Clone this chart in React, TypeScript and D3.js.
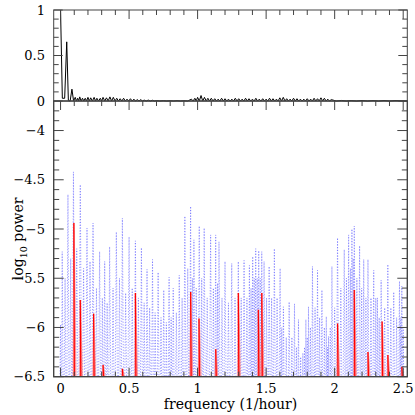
import React from "react";
import * as d3 from "d3";

// ---- top panel (normalized window / spectral function) ----
const topHeadFreq = [0.0, 0.013, 0.03, 0.045, 0.057, 0.07, 0.083, 0.095];
const topHeadPow = [1.0, 0.03, 0.03, 0.65, 0.005, 0.0, 0.13, 0.0];
const topBumpFreq = [
  0.107, 0.125, 0.14, 0.16, 0.18, 0.2, 0.22, 0.245, 0.265, 0.29, 0.31, 0.335, 0.36, 0.385, 0.41,
  0.435, 0.46, 0.485, 0.51, 0.535, 0.56, 0.585, 0.61, 0.64, 0.67, 0.7, 0.75, 0.8, 0.85, 0.9,
  0.955, 0.98, 1.0, 1.025, 1.05, 1.075, 1.1, 1.125, 1.15, 1.175, 1.2, 1.225, 1.25, 1.275, 1.3,
  1.325, 1.35, 1.375, 1.4, 1.425, 1.45, 1.475, 1.5, 1.525, 1.55, 1.575, 1.6, 1.625, 1.65, 1.675,
  1.7, 1.725, 1.75, 1.775, 1.8, 1.825, 1.85, 1.875, 1.9, 1.925, 1.95, 1.975, 2.05, 2.12, 2.2,
  2.28, 2.36, 2.44,
];
const topBumpPow = [
  0.04, 0.03, 0.045, 0.03, 0.03, 0.04, 0.035, 0.04, 0.03, 0.03, 0.04, 0.035, 0.045, 0.04, 0.03,
  0.025, 0.03, 0.02, 0.025, 0.02, 0.015, 0.015, 0.01, 0.01, 0.008, 0.005, 0.004, 0.003, 0.004, 0.003,
  0.02, 0.03, 0.04, 0.06, 0.04, 0.03, 0.03, 0.025, 0.02, 0.03, 0.025, 0.02, 0.02, 0.03, 0.025,
  0.02, 0.03, 0.025, 0.02, 0.03, 0.02, 0.025, 0.02, 0.03, 0.025, 0.02, 0.035, 0.04, 0.025, 0.02,
  0.03, 0.025, 0.02, 0.02, 0.025, 0.02, 0.03, 0.025, 0.035, 0.03, 0.02, 0.015, 0.006, 0.005, 0.006,
  0.005, 0.006, 0.005,
];

// ---- bottom panel: blue dotted periodogram peaks (log10 power) ----
const blueFreq = [
  0.0, 0.012, 0.033, 0.054, 0.074, 0.094, 0.118, 0.144, 0.168, 0.193, 0.215, 0.237, 0.262, 0.285,
  0.305, 0.322, 0.34, 0.358, 0.383, 0.407, 0.43, 0.451, 0.475, 0.5, 0.523, 0.546, 0.568, 0.59,
  0.61, 0.631, 0.65, 0.671, 0.69, 0.712, 0.733, 0.753, 0.772, 0.792, 0.807, 0.822, 0.845, 0.866,
  0.887, 0.907, 0.928, 0.949, 0.962, 0.973, 0.99, 1.012, 1.03, 1.048, 1.07, 1.095, 1.115, 1.132,
  1.145, 1.156, 1.178, 1.2, 1.225, 1.249, 1.273, 1.297, 1.318, 1.339, 1.36, 1.378, 1.39, 1.402,
  1.413, 1.424, 1.435, 1.446, 1.457, 1.468, 1.485, 1.503, 1.522, 1.54, 1.56, 1.58, 1.602, 1.614,
  1.626, 1.647, 1.668, 1.688, 1.707, 1.722, 1.736, 1.752, 1.768, 1.78, 1.79, 1.8, 1.809, 1.823,
  1.838, 1.857, 1.875, 1.89, 1.907, 1.925, 1.939, 1.948, 1.955, 1.968, 1.98, 2.0, 2.021, 2.045,
  2.07, 2.086, 2.102, 2.115, 2.126, 2.135, 2.143, 2.162, 2.182, 2.197, 2.212, 2.228, 2.243, 2.265,
  2.285, 2.3, 2.312, 2.325, 2.339, 2.365, 2.388, 2.41, 2.431, 2.452, 2.473, 2.482, 2.49, 2.5,
];
const bluePow = [
  -5.97, -5.23, -5.5, -4.65, -5.3, -4.42, -5.2, -4.55, -5.4, -4.99, -5.33, -4.94, -5.6, -5.23,
  -5.7, -5.33, -5.75, -5.18, -5.6, -5.03, -5.5, -4.89, -5.65, -5.08, -5.6, -5.12, -5.7, -5.19,
  -5.75, -5.41, -5.8, -5.31, -5.85, -5.44, -5.9, -5.62, -5.95, -5.49, -5.9, -5.6, -5.85, -5.47,
  -5.7, -4.87, -5.4, -4.77, -5.5, -5.11, -5.6, -4.97, -5.5, -4.99, -5.7, -5.06, -5.6, -5.06,
  -5.55, -5.13, -5.7, -5.33, -5.75, -5.35, -5.7, -5.33, -5.7, -5.32, -5.7, -5.37, -5.6, -5.28,
  -5.5, -5.2, -5.5, -5.22, -5.5, -5.23, -5.33, -5.7, -5.38, -5.7, -5.2, -5.7, -5.4, -6.0,
  -5.79, -6.1, -5.74, -6.1, -5.76, -6.2, -5.92, -6.3, -6.26, -6.2, -5.92, -6.1, -5.79, -6.0,
  -5.38, -5.8, -5.42, -5.9, -5.62, -6.0, -5.89, -6.2, -6.09, -6.0, -5.38, -5.8, -5.09, -5.6,
  -5.21, -5.5, -5.06, -5.4, -5.0, -5.3, -4.97, -5.5, -5.17, -5.6, -5.31, -5.7, -5.31, -5.7,
  -5.42, -5.7, -5.7, -5.9, -5.52, -5.8, -5.36, -5.8, -5.64, -5.9, -5.53, -5.9, -5.58, -6.0,
];

// ---- bottom panel: red spikes ----
const redFreq = [0.097, 0.144, 0.241, 0.31, 0.451, 0.546, 0.949, 1.01, 1.132, 1.297, 1.443, 1.468, 2.021, 2.143, 2.243, 2.346, 2.388, 2.49];
const redPow = [-4.94, -5.72, -5.86, -6.38, -6.42, -5.65, -5.64, -5.91, -6.22, -5.65, -5.82, -5.65, -5.96, -5.62, -6.25, -5.94, -6.28, -6.4];

const xTickLabels = ["0", "0.5", "1", "1.5", "2", "2.5"];
const xTickVals = [0, 0.5, 1, 1.5, 2, 2.5];
const topYLabels = ["0", "0.5", "1"];
const topYVals = [0, 0.5, 1];
const botYLabels = ["−4", "−4.5", "−5", "−5.5", "−6", "−6.5"];
const botYVals = [-4, -4.5, -5, -5.5, -6, -6.5];

const W = 415;
const H = 415;
const L = 53.7;
const R = 407.3;
const T1 = 10;
const B1 = 101;
const B2 = 376.7;
const FONT = "'DejaVu Serif', serif";

export default function App() {
  const x = d3.scaleLinear().domain([-0.05, 2.53]).range([L, R]);
  const yT = d3.scaleLinear().domain([0, 1]).range([B1, T1]);
  const yB = d3.scaleLinear().domain([-6.5, -3.7]).range([B2, B1]);

  // top line
  const topPts: [number, number][] = topHeadFreq.map((f, i) => [f, topHeadPow[i]]);
  topBumpFreq.forEach((f, i) => {
    const prev = topPts[topPts.length - 1][0];
    if (i > 0) topPts.push([(prev + f) / 2, 0]);
    topPts.push([f, topBumpPow[i]]);
  });
  topPts.push([2.53, 0]);
  const topLine = d3.line<[number, number]>().x((d) => x(d[0])).y((d) => yT(d[1]));

  // blue line: peaks with troughs below axis
  const FLOOR = -7.3;
  const bluePts: [number, number][] = [];
  blueFreq.forEach((f, i) => {
    if (i > 0) bluePts.push([(blueFreq[i - 1] + f) / 2, FLOOR]);
    else bluePts.push([f - 0.01, FLOOR]);
    bluePts.push([f, bluePow[i]]);
  });
  bluePts.push([2.51, FLOOR]);
  const blueLine = d3.line<[number, number]>().x((d) => x(d[0])).y((d) => yB(d[1]));

  const minorX = d3.range(0, 2.5001, 0.1);
  const minorYT = d3.range(0, 1.0001, 0.1);
  const minorYB = d3.range(-6.5, -3.75, 0.1);
  const isMajor = (v: number) => Math.abs(v * 2 - Math.round(v * 2)) < 1e-6;

  const frame = "#444";
  const tickEls: React.ReactNode[] = [];
  minorX.forEach((v, i) => {
    const len = isMajor(v) ? 9 : 5;
    const px = x(v);
    tickEls.push(<line key={"tt" + i} x1={px} x2={px} y1={T1} y2={T1 + len} />);
    tickEls.push(<line key={"bt" + i} x1={px} x2={px} y1={B1} y2={B1 + len} />);
    tickEls.push(<line key={"bb" + i} x1={px} x2={px} y1={B2} y2={B2 - len} />);
  });
  minorYT.forEach((v, i) => {
    const len = isMajor(v) ? 9 : 5;
    const py = yT(v);
    tickEls.push(<line key={"tl" + i} x1={L} x2={L + len} y1={py} y2={py} />);
    tickEls.push(<line key={"tr" + i} x1={R} x2={R - len} y1={py} y2={py} />);
  });
  minorYB.forEach((v, i) => {
    const len = isMajor(v) ? 10 : 5.5;
    const py = yB(v);
    tickEls.push(<line key={"bl" + i} x1={L} x2={L + len} y1={py} y2={py} />);
    tickEls.push(<line key={"br" + i} x1={R} x2={R - len} y1={py} y2={py} />);
  });

  return (
    <svg
      width={W}
      height={H}
      viewBox={`0 0 ${W} ${H}`}
      style={{ position: "fixed", left: 0, top: 0, background: "#fff" }}
    >
      <defs>
        <clipPath id="clipTop">
          <rect x={L} y={T1} width={R - L} height={B1 - T1 + 1} />
        </clipPath>
        <clipPath id="clipBot">
          <rect x={L} y={B1} width={R - L} height={B2 - B1} />
        </clipPath>
      </defs>
      <rect x={0} y={0} width={W} height={H} fill="#fff" />

      {/* bottom panel data */}
      <g clipPath="url(#clipBot)">
        <path
          d={blueLine(bluePts) || ""}
          fill="none"
          stroke="#5a5aff"
          strokeOpacity={0.6}
          strokeWidth={1}
          strokeDasharray="1.2,1.6"
        />
        {redFreq.map((f, i) => {
          const px = x(f);
          const py = yB(redPow[i]);
          return (
            <g key={"r" + i}>
              <path
                d={`M${px - 0.6},${py}L${px + 0.9},${py}L${px + 2.6},${B2}L${px - 1.2},${B2}Z`}
                fill="#ff7a7a"
                opacity={0.75}
              />
              <line x1={px} x2={px + 0.5} y1={py} y2={B2} stroke="#f00" strokeWidth={1.2} />
            </g>
          );
        })}
      </g>

      {/* top panel data */}
      <g clipPath="url(#clipTop)">
        <path d={topLine(topPts) || ""} fill="none" stroke="#000" strokeWidth={1} />
      </g>

      {/* frames & ticks */}
      <g stroke={frame} strokeWidth={1} fill="none">
        <rect x={L} y={T1} width={R - L} height={B1 - T1} />
        <rect x={L} y={B1} width={R - L} height={B2 - B1} strokeWidth={1.4} />
        {tickEls}
      </g>

      {/* labels */}
      <g fontFamily={FONT} fontSize={13} fill="#000">
        {topYVals.map((v, i) => (
          <text key={"tyl" + i} x={45} y={yT(v)} dy="0.36em" textAnchor="end">
            {topYLabels[i]}
          </text>
        ))}
        {botYVals.map((v, i) => (
          <text key={"byl" + i} x={45} y={yB(v)} dy="0.36em" textAnchor="end">
            {botYLabels[i]}
          </text>
        ))}
        {xTickVals.map((v, i) => (
          <text key={"xl" + i} x={x(v)} y={393} textAnchor="middle">
            {xTickLabels[i]}
          </text>
        ))}
        <text x={(L + R) / 2} y={409} textAnchor="middle" fontSize={14}>
          frequency (1/hour)
        </text>
        <text transform={`translate(23,${(B1 + B2) / 2}) rotate(-90)`} textAnchor="middle" fontSize={14}>
          log
          <tspan fontSize={9.5} dy={3.5}>
            10
          </tspan>
          <tspan dy={-3.5}> power</tspan>
        </text>
      </g>
    </svg>
  );
}
